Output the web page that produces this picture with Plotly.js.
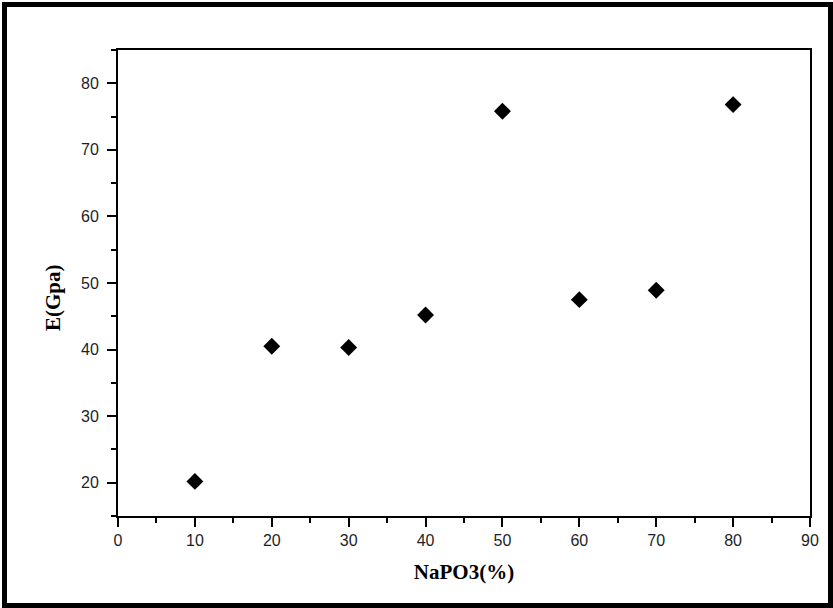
<!DOCTYPE html>
<html>
<head>
<meta charset="utf-8">
<script src="https://cdn.plot.ly/plotly-3.0.1.min.js"></script>
<style>
  html, body { margin: 0; padding: 0; background: #fff; }
  #wrap { position: relative; width: 833px; height: 608px; }
  #chart { width: 833px; height: 608px; }
  #frame { position: absolute; left: 2px; top: 2px; width: 821px; height: 596px;
           border: 5px solid #000; pointer-events: none; }
</style>
</head>
<body>
<div id="wrap">
  <div id="chart"></div>
  <div id="frame"></div>
</div>
<script>
const naPO3 = [10, 20, 30, 40, 50, 60, 70, 80];
const modulusE = [20.2, 40.5, 40.3, 45.2, 75.8, 47.5, 48.9, 76.8];
const xTitle = 'NaPO3(%)';
const yTitle = 'E(Gpa)';

const tickFont = { family: 'Liberation Sans, Arial, sans-serif', size: 16, color: '#1e1e28' };
const titleFont = { family: 'Liberation Serif, Times New Roman, serif', size: 21, color: '#000' };

const trace = {
  x: naPO3, y: modulusE, type: 'scatter', mode: 'markers',
  marker: { symbol: 'diamond', size: 13, color: '#000' },
  hoverinfo: 'x+y'
};

const axisCommon = {
  showline: true, linewidth: 2, linecolor: '#000', mirror: true,
  ticks: 'outside', ticklen: 9, tickwidth: 2, tickcolor: '#000',
  showgrid: false, zeroline: false, tickfont: tickFont,
  minor: { ticks: 'outside', ticklen: 5, tickwidth: 2, tickcolor: '#000', dtick: 5, showgrid: false }
};

const layout = {
  width: 833, height: 608,
  margin: { l: 118, r: 23, t: 50, b: 92 },
  paper_bgcolor: '#fff', plot_bgcolor: '#fff',
  showlegend: false,
  xaxis: Object.assign({}, axisCommon, {
    range: [0, 90], tick0: 0, dtick: 10, autorange: false,
    title: { text: '<b>' + xTitle + '</b>', font: titleFont, standoff: 16 }
  }),
  yaxis: Object.assign({}, axisCommon, {
    range: [15, 85], tick0: 0, dtick: 10, autorange: false,
    ticklabelstandoff: 5
  }),
  annotations: [{
    text: '<b>' + yTitle + '</b>', xref: 'paper', yref: 'paper',
    x: (53 - 118) / 692, y: (516 - 298) / 466, xanchor: 'center', yanchor: 'middle',
    textangle: -90, showarrow: false, font: titleFont
  }]
};

Plotly.newPlot('chart', [trace], layout, { displayModeBar: false, staticPlot: true });
</script>
</body>
</html>
